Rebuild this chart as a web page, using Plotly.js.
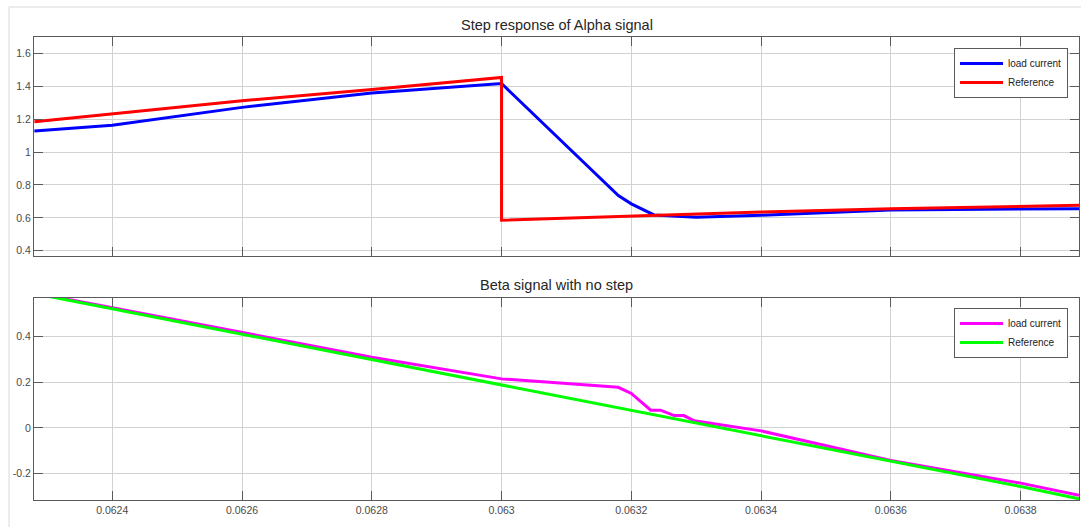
<!DOCTYPE html>
<html>
<head>
<meta charset="utf-8">
<script src="https://cdn.plot.ly/plotly-3.0.1.min.js"></script>
<style>
  html, body { margin: 0; padding: 0; background: #ffffff; }
  #chart { width: 1081px; height: 527px; }
</style>
</head>
<body>
<div id="chart"></div>
<script>
// ---- Data ----
// Top panel: Step response of Alpha signal
const alphaRefT = [0.06228, 0.0624, 0.0626, 0.0628, 0.063, 0.063, 0.0632, 0.0634, 0.0636, 0.06389];
const alphaRefV = [1.185, 1.232, 1.312, 1.38, 1.454, 0.585, 0.612, 0.635, 0.655, 0.676];

const alphaLoadT = [0.06228, 0.0624, 0.0626, 0.0628, 0.063, 0.06318, 0.0632, 0.063235, 0.0633, 0.0634, 0.0636, 0.06389];
const alphaLoadV = [1.128, 1.163, 1.272, 1.36, 1.417, 0.736, 0.685, 0.618, 0.604, 0.616, 0.648, 0.656];

// Bottom panel: Beta signal with no step
const betaRefT = [0.06228, 0.0624, 0.0626, 0.0628, 0.063, 0.0632, 0.0634, 0.0636, 0.0638, 0.06389];
const betaRefV = [0.589, 0.522, 0.411, 0.300, 0.188, 0.077, -0.035, -0.146, -0.257, -0.311];

const betaLoadT = [0.06228, 0.0624, 0.0626, 0.0628, 0.063, 0.0631, 0.06318, 0.0632, 0.06323, 0.063245, 0.063266, 0.063281, 0.063297, 0.0634, 0.0636, 0.0638, 0.06389];
const betaLoadV = [0.592, 0.527, 0.418, 0.31, 0.215, 0.196, 0.178, 0.151, 0.078, 0.078, 0.054, 0.054, 0.031, -0.013, -0.143, -0.242, -0.295];

const xTickVals = [0.0624, 0.0626, 0.0628, 0.063, 0.0632, 0.0634, 0.0636, 0.0638];
const xTickText = ['0.0624', '0.0626', '0.0628', '0.063', '0.0632', '0.0634', '0.0636', '0.0638'];
const yTopTickVals = [0.4, 0.6, 0.8, 1.0, 1.2, 1.4, 1.6];
const yTopTickText = ['0.4', '0.6', '0.8', '1', '1.2', '1.4', '1.6'];
const yBotTickVals = [-0.2, 0, 0.2, 0.4];
const yBotTickText = ['-0.2', '0', '0.2', '0.4'];

const titleTop = 'Step response of Alpha signal';
const titleBottom = 'Beta signal with no step';
const seriesNames = ['load current', 'Reference'];

// ---- Styling ----
const FONT = 'Liberation Sans, Arial, sans-serif';
const tickFont = { family: FONT, size: 10.5, color: '#4a4a4a' };

function axisBase(extra) {
  return Object.assign({
    showline: true, linecolor: '#5a5a5a', linewidth: 1, mirror: 'ticks',
    ticks: 'inside', ticklen: 9, tickcolor: '#5a5a5a', tickwidth: 1,
    showgrid: true, gridcolor: '#d2d2d2', gridwidth: 1,
    zeroline: false, tickfont: tickFont, fixedrange: true
  }, extra);
}

const traces = [
  { x: alphaLoadT, y: alphaLoadV, name: seriesNames[0], type: 'scatter', mode: 'lines',
    line: { color: '#0000ff', width: 3 }, xaxis: 'x', yaxis: 'y', legend: 'legend' },
  { x: alphaRefT, y: alphaRefV, name: seriesNames[1], type: 'scatter', mode: 'lines',
    line: { color: '#ff0000', width: 3 }, xaxis: 'x', yaxis: 'y', legend: 'legend' },
  { x: betaLoadT, y: betaLoadV, name: seriesNames[0], type: 'scatter', mode: 'lines',
    line: { color: '#ff00ff', width: 3 }, xaxis: 'x2', yaxis: 'y2', legend: 'legend2' },
  { x: betaRefT, y: betaRefV, name: seriesNames[1], type: 'scatter', mode: 'lines',
    line: { color: '#00ff00', width: 3 }, xaxis: 'x2', yaxis: 'y2', legend: 'legend2' }
];

const xRange = [0.0622794, 0.06389];

const legendStyle = {
  xanchor: 'right', yanchor: 'top',
  bgcolor: '#ffffff', bordercolor: '#5a5a5a', borderwidth: 1,
  font: { family: FONT, size: 10, color: '#222222' },
  tracegroupgap: 0, itemwidth: 43
};

const layout = {
  width: 1081, height: 527,
  margin: { l: 34, r: 2, t: 37, b: 27 },
  paper_bgcolor: '#ffffff', plot_bgcolor: '#ffffff',
  showlegend: true,
  xaxis: axisBase({ domain: [0, 1], anchor: 'y', range: xRange, tickvals: xTickVals, ticktext: xTickText, showticklabels: false }),
  yaxis: axisBase({ domain: [0.527, 1], anchor: 'x', range: [0.368, 1.7], tickvals: yTopTickVals, ticktext: yTopTickText }),
  xaxis2: axisBase({ domain: [0, 1], anchor: 'y2', range: xRange, tickvals: xTickVals, ticktext: xTickText }),
  yaxis2: axisBase({ domain: [0, 0.437], anchor: 'x2', range: [-0.316, 0.571], tickvals: yBotTickVals, ticktext: yBotTickText }),
  legend: Object.assign({ x: 0.9895, y: 0.9762 }, legendStyle),
  legend2: Object.assign({ x: 0.9895, y: 0.4147 }, legendStyle),
  annotations: [
    { text: titleTop, xref: 'paper', yref: 'paper', x: 0.5, y: 1.026, xanchor: 'center', yanchor: 'middle',
      showarrow: false, font: { family: FONT, size: 14.5, color: '#262626' } },
    { text: titleBottom, xref: 'paper', yref: 'paper', x: 0.5, y: 0.4644, xanchor: 'center', yanchor: 'middle',
      showarrow: false, font: { family: FONT, size: 14.5, color: '#262626' } }
  ],
  shapes: [
    { type: 'line', xref: 'paper', yref: 'paper', x0: -0.0239, x1: -0.0239, y0: -0.06, y1: 1.0648,
      line: { color: '#d9d9d9', width: 1 } },
    { type: 'line', xref: 'paper', yref: 'paper', x0: -0.0239, x1: 1.01, y0: 1.0648, y1: 1.0648,
      line: { color: '#d9d9d9', width: 1 } }
  ]
};

Plotly.newPlot('chart', traces, layout, { displayModeBar: false, staticPlot: true });
</script>
</body>
</html>
